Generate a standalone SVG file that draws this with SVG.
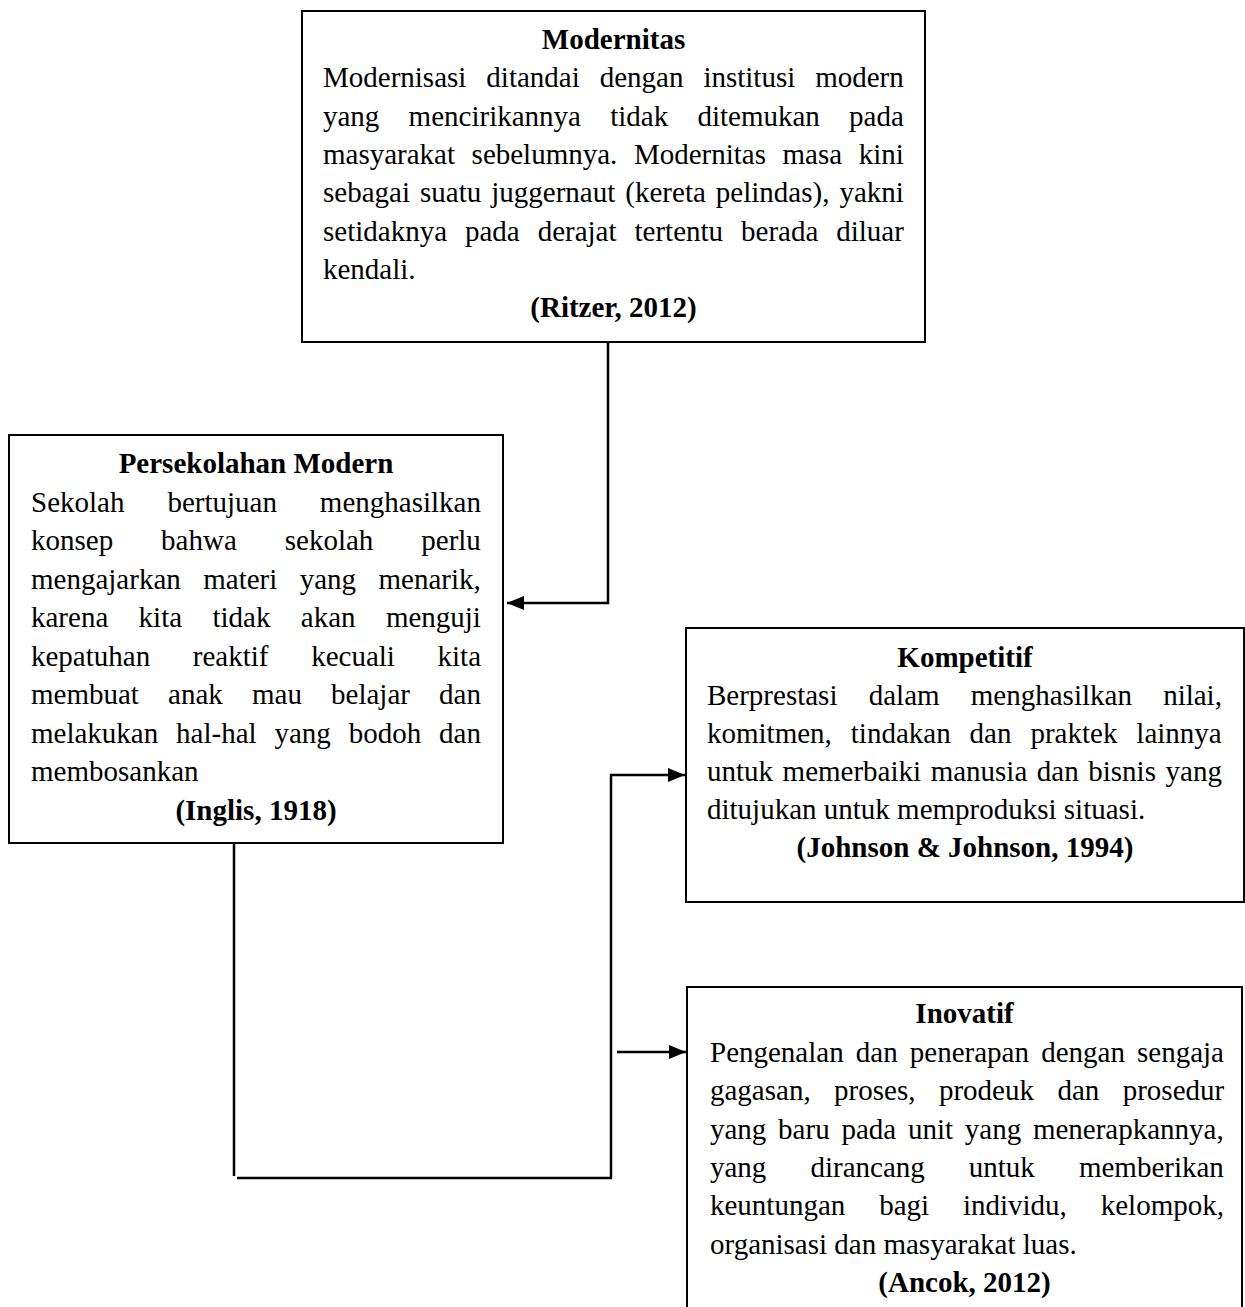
<svg xmlns="http://www.w3.org/2000/svg" width="1245" height="1307" viewBox="0 0 1245 1307">
<style>
.box{fill:#ffffff;stroke:#000;stroke-width:2}
.t{font-family:"Liberation Serif","Times New Roman",serif;font-size:29px;fill:#000}
.b{font-weight:bold;text-anchor:middle}
.c{fill:none;stroke:#000;stroke-width:2.5}
</style>
<defs>
<marker id="ah" markerUnits="userSpaceOnUse" markerWidth="18" markerHeight="14" refX="17" refY="7" orient="auto">
<path d="M0,0 L17,7 L0,14 Z" fill="#000"/>
</marker>
</defs>
<rect width="1245" height="1307" fill="#ffffff"/>

<g id="connectors">
<path class="c" d="M608,342 V603 H507" marker-end="url(#ah)"/>
<path class="c" d="M611,1178 V775 H685" marker-end="url(#ah)"/>
<path class="c" d="M617,1052 H686" marker-end="url(#ah)"/>
<path class="c" d="M234,843 V1176"/>
<path class="c" d="M237,1178 H612"/>
</g>

<g id="modernitas">
<rect class="box" x="302" y="11" width="623" height="331"/>
<text class="t b" x="613.5" y="49">Modernitas</text>
<text class="t" x="323" y="87" style="word-spacing:12.7px">Modernisasi ditandai dengan institusi modern</text>
<text class="t" x="323" y="125.5" style="word-spacing:22px">yang mencirikannya tidak ditemukan pada</text>
<text class="t" x="323" y="164" style="word-spacing:9.3px">masyarakat sebelumnya. Modernitas masa kini</text>
<text class="t" x="323" y="202" style="word-spacing:2.8px">sebagai suatu juggernaut (kereta pelindas), yakni</text>
<text class="t" x="323" y="240.5" style="word-spacing:10.7px">setidaknya pada derajat tertentu berada diluar</text>
<text class="t" x="323" y="279">kendali.</text>
<text class="t b" x="613.5" y="317">(Ritzer, 2012)</text>
</g>

<g id="persekolahan">
<rect class="box" x="9" y="435" width="494" height="408"/>
<text class="t b" x="256" y="473">Persekolahan Modern</text>
<text class="t" x="31" y="511.5" style="word-spacing:35.7px">Sekolah bertujuan menghasilkan</text>
<text class="t" x="31" y="550" style="word-spacing:40.7px">konsep bahwa sekolah perlu</text>
<text class="t" x="31" y="588.5" style="word-spacing:15.2px">mengajarkan materi yang menarik,</text>
<text class="t" x="31" y="627" style="word-spacing:23.1px">karena kita tidak akan menguji</text>
<text class="t" x="31" y="665.5" style="word-spacing:35.4px">kepatuhan reaktif kecuali kita</text>
<text class="t" x="31" y="704" style="word-spacing:21.9px">membuat anak mau belajar dan</text>
<text class="t" x="31" y="742.5" style="word-spacing:10.6px">melakukan hal-hal yang bodoh dan</text>
<text class="t" x="31" y="781">membosankan</text>
<text class="t b" x="256" y="820">(Inglis, 1918)</text>
</g>

<g id="kompetitif">
<rect class="box" x="686" y="628" width="558" height="274"/>
<text class="t b" x="965" y="667">Kompetitif</text>
<text class="t" x="707" y="705" style="word-spacing:24px">Berprestasi dalam menghasilkan nilai,</text>
<text class="t" x="707" y="743" style="word-spacing:11.7px">komitmen, tindakan dan praktek lainnya</text>
<text class="t" x="707" y="781" style="word-spacing:2.3px">untuk memerbaiki manusia dan bisnis yang</text>
<text class="t" x="707" y="819">ditujukan untuk memproduksi situasi.</text>
<text class="t b" x="965" y="857">(Johnson &amp; Johnson, 1994)</text>
</g>

<g id="inovatif">
<rect class="box" x="687" y="987" width="555" height="340"/>
<text class="t b" x="964.5" y="1023">Inovatif</text>
<text class="t" x="710" y="1062" style="word-spacing:4.9px">Pengenalan dan penerapan dengan sengaja</text>
<text class="t" x="710" y="1100" style="word-spacing:16.2px">gagasan, proses, prodeuk dan prosedur</text>
<text class="t" x="710" y="1139" style="word-spacing:4.5px">yang baru pada unit yang menerapkannya,</text>
<text class="t" x="710" y="1177" style="word-spacing:36.8px">yang dirancang untuk memberikan</text>
<text class="t" x="710" y="1215" style="word-spacing:26.6px">keuntungan bagi individu, kelompok,</text>
<text class="t" x="710" y="1254">organisasi dan masyarakat luas.</text>
<text class="t b" x="964.5" y="1292">(Ancok, 2012)</text>
</g>
</svg>
